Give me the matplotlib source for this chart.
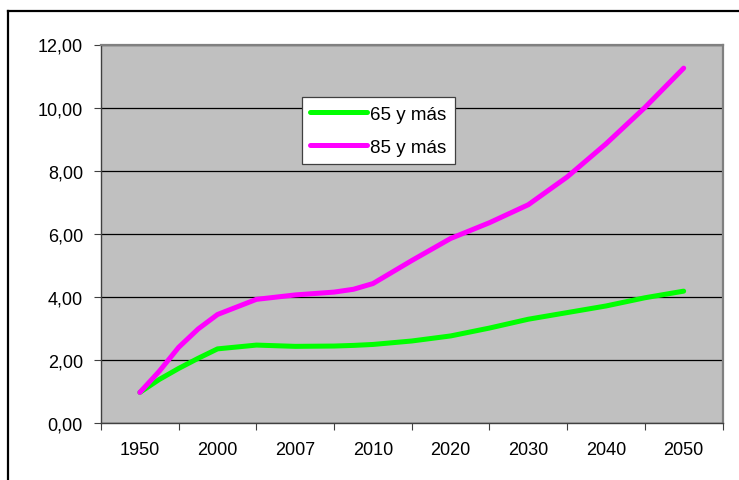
import matplotlib
matplotlib.use("Agg")
import matplotlib.pyplot as plt
from matplotlib.lines import Line2D
from matplotlib.ticker import FuncFormatter

# Etiquetas del eje X (categorías)
categorias = ["1950", "2000", "2007", "2010", "2020", "2030", "2040", "2050"]

# Posición de cada punto medido (en unidades de categoría)
posicion = [0, 0.25, 0.5, 0.75, 1.0, 1.5, 2.0, 2.5, 2.75, 3.0,
            3.5, 4.0, 4.5, 5.0, 5.5, 6.0, 6.5, 7.0]

# Series
mas_65 = [0.97, 1.38, 1.73, 2.05, 2.35, 2.47, 2.43, 2.44, 2.46, 2.49,
          2.60, 2.76, 3.01, 3.29, 3.50, 3.71, 3.97, 4.18]
mas_85 = [0.97, 1.64, 2.40, 2.98, 3.44, 3.92, 4.06, 4.15, 4.24, 4.42,
          5.15, 5.85, 6.35, 6.92, 7.80, 8.85, 10.00, 11.25]

W, H = 739, 481
fig = plt.figure(figsize=(W / 100, H / 100), dpi=100)
plt.rcParams['font.family'] = ['Liberation Sans', 'DejaVu Sans']

# Área de trazado
izq, der, arr, aba = 101, 722.5, 45.5, 424
ax = fig.add_axes([izq / W, 1 - aba / H, (der - izq) / W, (aba - arr) / H])
ax.set_facecolor('#C0C0C0')

ax.plot(posicion, mas_65, color='#00FF00', lw=3.6, solid_capstyle='round',
        solid_joinstyle='round', label='65 y más', zorder=3)
ax.plot(posicion, mas_85, color='#FF00FF', lw=3.6, solid_capstyle='round',
        solid_joinstyle='round', label='85 y más', zorder=3)

ax.set_xlim(-0.5, len(categorias) - 0.5)
ax.set_ylim(0, 12)

# Eje Y
ax.set_yticks(range(0, 13, 2))
ax.yaxis.set_major_formatter(FuncFormatter(lambda v, p: f"{v:.2f}".replace('.', ',')))
ax.yaxis.grid(True, color='black', lw=0.9)
ax.set_axisbelow(True)

# Eje X: marcas en los límites, etiquetas en el centro
ax.set_xticks([i - 0.5 for i in range(len(categorias) + 1)])
ax.set_xticklabels([])
ax.set_xticks(range(len(categorias)), minor=True)
ax.set_xticklabels(categorias, minor=True)
ax.tick_params(axis='x', which='minor', length=0, pad=13, labelsize=13)
ax.tick_params(axis='x', which='major', length=5, width=0.8, color='#404040')
ax.tick_params(axis='y', length=5, width=0.8, color='#404040', labelsize=13, pad=8)

for s in ['left', 'bottom']:
    ax.spines[s].set_color('#404040')
    ax.spines[s].set_linewidth(1.0)
for s in ['top', 'right']:
    ax.spines[s].set_color('#808080')
    ax.spines[s].set_linewidth(1.6)

leg = ax.legend(loc='upper left', bbox_to_anchor=(302 / W, 1 - 98 / H),
                bbox_transform=fig.transFigure, fontsize=13.5, frameon=True,
                fancybox=False, handlelength=3.0, handletextpad=0.2,
                borderpad=0.45, labelspacing=0.85, borderaxespad=0)
leg.get_frame().set_edgecolor('#404040')
leg.get_frame().set_linewidth(0.9)
leg.get_frame().set_facecolor('white')
leg.get_frame().set_alpha(1)

# Marco exterior (sólo se ven los bordes izquierdo y superior)
fig.add_artist(Line2D([8 / W, 8 / W], [0, 1 - 12 / H], color='black', lw=1.6))
fig.add_artist(Line2D([8 / W, 1], [1 - 12 / H, 1 - 12 / H], color='black', lw=1.6))

fig.savefig('out.png', dpi=100)
